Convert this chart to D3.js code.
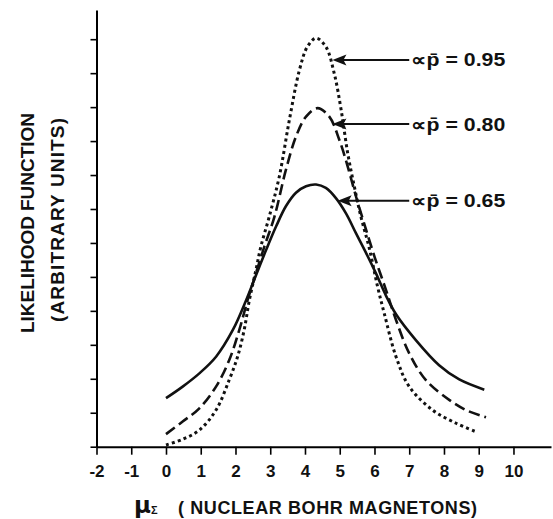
<!DOCTYPE html>
<html>
<head>
<meta charset="utf-8">
<script src="https://cdn.jsdelivr.net/npm/d3@7"></script>
<style>
  html, body { margin: 0; padding: 0; background: #fff; }
  svg { display: block; }
  text { font-family: "Liberation Sans", Arial, sans-serif; font-weight: bold; fill: #111; }
</style>
</head>
<body>
<svg id="chart" width="553" height="519"></svg>
<script>
// tick values
const xTicks = [-2, -1, 0, 1, 2, 3, 4, 5, 6, 7, 8, 9, 10];
const yTicks = d3.range(0, 13);

// likelihood curves, [mu, likelihood] in tick units
const curve65 = [[0,1.43],[0.48,1.77],[0.96,2.16],[1.44,2.65],[1.92,3.43],[2.30,4.30],[2.59,5.05],[2.88,5.79],[3.17,6.49],[3.45,7.08],[3.74,7.48],[4.03,7.67],[4.32,7.72],[4.60,7.62],[4.89,7.32],[5.18,6.87],[5.47,6.28],[5.76,5.70],[6.04,5.11],[6.33,4.45],[6.62,3.90],[7.19,3.14],[7.86,2.40],[8.44,1.98],[9.16,1.68]];
const curve80 = [[0,0.37],[0.48,0.74],[0.96,1.13],[1.44,1.77],[1.82,2.55],[2.11,3.44],[2.35,4.32],[2.59,5.11],[2.83,5.89],[3.12,6.77],[3.45,8.15],[3.74,9.13],[4.03,9.72],[4.36,9.97],[4.70,9.72],[4.99,9.03],[5.23,8.25],[5.47,7.36],[5.71,6.55],[6.0,5.60],[6.33,4.62],[6.62,3.73],[7.0,2.75],[7.48,1.96],[8.15,1.38],[8.63,1.08],[9.21,0.87]];
const curve95 = [[0,0.05],[0.48,0.22],[0.96,0.49],[1.44,1.08],[1.82,1.97],[2.06,2.65],[2.25,3.44],[2.40,4.32],[2.59,5.21],[2.73,5.89],[2.97,6.77],[3.26,7.95],[3.55,9.62],[3.84,11.09],[4.07,11.78],[4.32,12.03],[4.60,11.78],[4.84,11.00],[5.04,9.92],[5.23,8.64],[5.42,7.66],[5.61,6.77],[5.85,5.85],[6.09,4.71],[6.28,3.93],[6.62,2.65],[7.0,1.77],[7.67,1.08],[8.35,0.69],[8.92,0.44]];

// annotation labels and where their arrows point (data units)
const labels = ["\u221Dp\u0304 = 0.95", "\u221Dp\u0304 = 0.80", "\u221Dp\u0304 = 0.65"];
const arrowTips = [[4.79, 11.39], [4.79, 9.50], [4.94, 7.24]];
const arrowTailX = 7.0;

const svg = d3.select("#chart");
const x = d3.scaleLinear().domain([-2, 11.08]).range([96.5, 551]);
const y = d3.scaleLinear().domain([0, 12.86]).range([446.7, 10]);

// axes
const xAxis = svg.append("g")
  .attr("transform", `translate(0,${y(0)})`)
  .call(d3.axisBottom(x).tickValues(xTicks).tickSize(8).tickPadding(10).tickSizeOuter(0)
    .tickFormat(d => String(d)));
xAxis.select(".domain").attr("stroke-width", 2);
xAxis.selectAll(".tick line").attr("stroke-width", 1.6);
xAxis.selectAll(".tick text")
  .style("font-size", "17px").style("font-family", "'Liberation Sans', Arial, sans-serif")
  .style("font-weight", "bold").attr("fill", "#111");

const yAxis = svg.append("g")
  .attr("transform", `translate(${x(-2)},0)`)
  .call(d3.axisLeft(y).tickValues(yTicks).tickSize(6).tickFormat("").tickSizeOuter(0));
yAxis.select(".domain").attr("stroke-width", 2);
yAxis.selectAll(".tick line").attr("stroke-width", 1.6);

// curves
const line = d3.line().x(d => x(d[0])).y(d => y(d[1])).curve(d3.curveCatmullRom.alpha(0.5));
const series = [
  { data: curve65, dash: null, w: 2.6 },
  { data: curve80, dash: "11,5", w: 2.6 },
  { data: curve95, dash: "3,3.2", w: 3 }
];
svg.append("g").selectAll("path")
  .data(series)
  .join("path")
  .attr("d", d => line(d.data))
  .attr("fill", "none")
  .attr("stroke", "#111")
  .attr("stroke-width", d => d.w)
  .attr("stroke-dasharray", d => d.dash);

// arrows + labels (arrowheads drawn as paths at the tip)
const ann = svg.append("g").selectAll("g")
  .data(labels.map((t, i) => ({ t, tip: arrowTips[i] })))
  .join("g");
ann.append("line")
  .attr("x1", d => x(d.tip[0]) + 8)
  .attr("y1", d => y(d.tip[1]))
  .attr("x2", x(arrowTailX))
  .attr("y2", d => y(d.tip[1]))
  .attr("stroke", "#111")
  .attr("stroke-width", 2);
ann.append("path")
  .attr("transform", d => `translate(${x(d.tip[0])},${y(d.tip[1])})`)
  .attr("d", "M0,0L14,-5.5L11,0L14,5.5Z")
  .attr("fill", "#111");
ann.append("text")
  .attr("x", x(arrowTailX) + 2)
  .attr("y", d => y(d.tip[1]))
  .attr("dy", "0.36em")
  .attr("textLength", 94)
  .attr("lengthAdjust", "spacingAndGlyphs")
  .style("font-size", "18px")
  .text(d => d.t);

// axis titles
const xt = svg.append("text")
  .attr("x", 134).attr("y", 513)
  .style("font-size", "18px");
xt.append("tspan").text("\u03BC").style("font-size", "23px").style("font-family", "'DejaVu Sans', sans-serif");
xt.append("tspan").text("\u03A3").style("font-size", "11px").attr("dy", 1);
xt.append("tspan").attr("x", 178).attr("y", 514).attr("textLength", 299).attr("lengthAdjust", "spacing")
  .text("( NUCLEAR BOHR MAGNETONS)");

svg.append("text")
  .attr("transform", "translate(34,223) rotate(-90)")
  .attr("text-anchor", "middle")
  .attr("textLength", 220).attr("lengthAdjust", "spacing")
  .style("font-size", "19px")
  .text("LIKELIHOOD FUNCTION");
svg.append("text")
  .attr("transform", "translate(64,220) rotate(-90)")
  .attr("text-anchor", "middle")
  .attr("textLength", 204).attr("lengthAdjust", "spacing")
  .style("font-size", "19px")
  .text("(ARBITRARY UNITS)");
</script>
</body>
</html>
